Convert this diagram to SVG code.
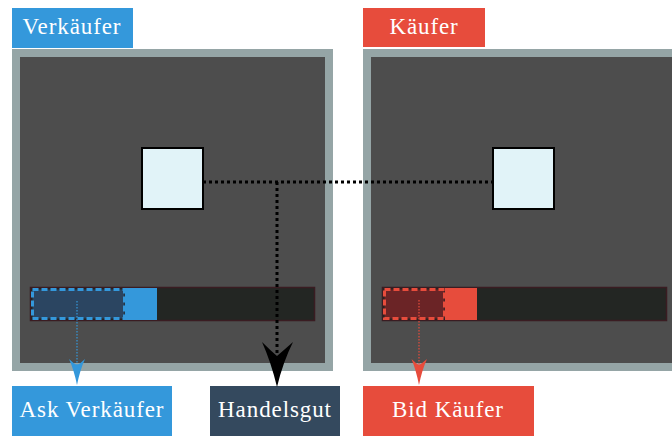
<svg xmlns="http://www.w3.org/2000/svg" width="672" height="436" viewBox="0 0 672 436">
  <style>
    .frame { fill: #95a5a6; }
    .screen { fill: #4d4d4d; }
    .item { fill: #e1f3f8; stroke: #000; stroke-width: 2; }
    .bar { fill: #232623; stroke: #3a1c22; stroke-width: 1.5; }
    .link { fill: none; stroke: #000; stroke-width: 3; stroke-dasharray: 3 3; }
    .thin { fill: none; stroke-width: 1.2; stroke-dasharray: 1.5 1.5; }
  </style>

  <!-- seller panel -->
  <g id="seller-panel">
    <rect class="frame" x="12" y="49" width="321" height="322"/>
    <rect class="screen" x="20" y="57" width="305" height="306"/>
  </g>

  <!-- buyer panel (runs past the right edge) -->
  <g id="buyer-panel">
    <rect class="frame" x="363" y="49" width="321" height="322"/>
    <rect class="screen" x="371" y="57" width="305" height="306"/>
  </g>

  <!-- items -->
  <g id="seller-item">
    <rect class="item" x="142" y="148" width="61" height="61"/>
  </g>
  <g id="buyer-item">
    <rect class="item" x="493" y="148" width="61" height="61"/>
  </g>

  <!-- order bars -->
  <g id="seller-bar">
    <rect class="bar" x="30.5" y="287.5" width="284" height="33"/>
    <rect x="125" y="288" width="32" height="32" fill="#3498db"/>
    <rect x="32.5" y="289.5" width="92" height="29" fill="#2b4561" stroke="#3498db" stroke-width="3" stroke-dasharray="6 3"/>
  </g>
  <g id="buyer-bar">
    <rect class="bar" x="382.5" y="287.5" width="284" height="33"/>
    <rect x="445" y="288" width="32" height="32" fill="#e74c3c"/>
    <rect x="384.5" y="289.5" width="60" height="29" fill="#6b2426" stroke="#e74c3c" stroke-width="3" stroke-dasharray="6 3"/>
  </g>

  <!-- labels: white serif text on coloured boxes -->
  <g font-family="Liberation Serif, Times New Roman, serif" font-size="23" fill="#fff" text-anchor="middle" letter-spacing="0.9">
    <g id="seller-label">
      <rect x="12" y="8" width="121" height="40" fill="#3498db"/>
      <text x="72" y="34">Verkäufer</text>
    </g>
    <g id="buyer-label">
      <rect x="363" y="8" width="122" height="39" fill="#e74c3c"/>
      <text x="424" y="34">Käufer</text>
    </g>
    <g id="ask-label">
      <rect x="12" y="386" width="160" height="50" fill="#3498db"/>
      <text x="92" y="417">Ask Verkäufer</text>
    </g>
    <g id="goods-label">
      <rect x="210" y="386" width="130" height="50" fill="#34495e"/>
      <text x="275" y="417">Handelsgut</text>
    </g>
    <g id="bid-label">
      <rect x="363" y="386" width="171" height="50" fill="#e74c3c"/>
      <text x="448" y="417">Bid Käufer</text>
    </g>
  </g>

  <!-- connectors -->
  <g id="connectors">
    <path class="link" d="M203,182 H493"/>
    <path class="link" d="M277,182 V356"/>
    <path d="M277,387 Q271,362 262,342 Q270,350 277,356 Q284,350 293,342 Q283,362 277,387 Z" fill="#000"/>

    <path class="thin" stroke="#3498db" d="M77,301 V366"/>
    <path d="M77,385 Q74,370 69,359 Q73,363 77,365 Q81,363 85,359 Q80,370 77,385 Z" fill="#3498db"/>

    <path class="thin" stroke="#e74c3c" d="M419,300 V366"/>
    <path d="M419,385 Q416,370 411.5,359 Q415.5,363 419,365 Q422.5,363 427,359 Q422,370 419,385 Z" fill="#e74c3c"/>
  </g>
</svg>
